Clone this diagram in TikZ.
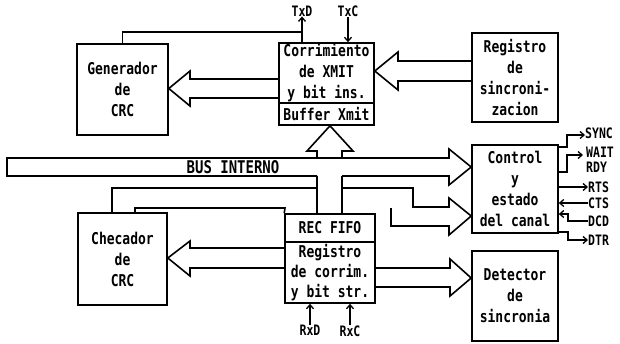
\documentclass[tikz,border=0pt]{standalone}
\usepackage{fontspec}
\setmonofont{DejaVu Sans Mono}
\usepackage{graphicx}
\usetikzlibrary{arrows.meta,calc}
\newcommand{\vs}[1]{\scalebox{1}[1.25]{#1}}
\begin{document}
\begin{tikzpicture}[x=1pt,y=-1pt,
  box/.style={draw,line width=1.6pt,inner sep=0pt,align=center,
    font=\ttfamily\bfseries\fontsize{13}{21}\selectfont},
  wide/.style={line width=1.6pt,line join=miter},
  thinl/.style={line width=1.3pt},
  sig/.style={line width=1.3pt,-{Straight Barb[length=4pt,width=7pt]}},
  lbl/.style={inner sep=0pt,font=\ttfamily\bfseries\fontsize{11.5}{14.5}\selectfont,align=left}]
\useasboundingbox (0,0) rectangle (620,343);

% boxes
\node[box,minimum width=91pt,minimum height=91pt] (gen) at (122.5,89.5)
  {\vs{Generador}\\\vs{de}\\\vs{CRC}};
\node[box,minimum width=89pt,minimum height=92pt] (chk) at (122.5,259)
  {\vs{Checador}\\\vs{de}\\\vs{CRC}};
\node[box,minimum width=95pt,minimum height=60pt] (corr) at (326.5,73)
  {\vs{Corrimiento}\\\vs{de XMIT}\\\vs{y bit ins.}};
\node[box,minimum width=95pt,minimum height=22pt] (buf) at (326.5,114)
  {\vs{Buffer Xmit}};
\node[box,minimum width=86pt,minimum height=89pt] (reg) at (515,77.5)
  {\vs{Registro}\\\vs{de}\\\vs{sincroni-}\\\vs{zacion}};
\node[box,minimum width=86pt,minimum height=88pt] (ctl) at (515,189)
  {\vs{Control}\\\vs{y}\\\vs{estado}\\\vs{del canal}};
\node[box,minimum width=86pt,minimum height=90pt] (det) at (515,296)
  {\vs{Detector}\\\vs{de}\\\vs{sincronia}};
\node[box,minimum width=90pt,minimum height=28pt] (fifo) at (330,228)
  {\vs{REC FIFO}};
\node[box,minimum width=90pt,minimum height=61pt,font=\ttfamily\bfseries\fontsize{13}{20}\selectfont] (rsr) at (330,272.5)
  {\vs{Registro}\\\vs{de corrim.}\\\vs{y bit str.}};

% hollow arrows
\draw[wide] (corr.west |- 0,79) -- (190,79) -- (190,71) -- (gen.east |- 0,88.5)
  -- (190,106) -- (190,98) -- (corr.west |- 0,98);
\draw[wide] (reg.west |- 0,61) -- (398,61) -- (398,52) -- (corr.east |- 0,71)
  -- (398,90) -- (398,81) -- (reg.west |- 0,81);
\draw[wide] (rsr.west |- 0,248) -- (190,248) -- (190,241) -- (chk.east |- 0,258)
  -- (190,276) -- (190,268) -- (rsr.west |- 0,268);
\draw[wide] (rsr.east |- 0,268) -- (450,268) -- (450,259) -- (det.west |- 0,278)
  -- (450,296) -- (450,287) -- (rsr.east |- 0,287);

% internal bus
\draw[wide] (317,176) -- (7,176) -- (7,158) -- (449,158) -- (449,149)
  -- (ctl.west |- 0,167) -- (449,185) -- (449,176) -- (342,176);
\node[inner sep=0pt,font=\ttfamily\bfseries\fontsize{14}{14}\selectfont] (busl) at (233,167) {\vs{BUS INTERNO}};

% bus -> buffer xmit
\draw[wide] (317,158) -- (317,151) -- (307,151) -- (buf.south -| 330,0)
  -- (353,151) -- (342,151) -- (342,158);
% rec fifo -> bus
\draw[wide] (317,176) -- (fifo.north -| 317,0);
\draw[wide] (342,176) -- (fifo.north -| 342,0);

% checador channel -> control
\draw[wide] (chk.north -| 112,0) -- (112,188) -- (317,188);
\draw[wide] (342,188) -- (413,188) -- (413,207) -- (449,207) -- (449,198)
  -- (ctl.west |- 0,216) -- (449,235) -- (449,226) -- (391,226) -- (391,208);
\draw[wide] (chk.north -| 135,0) -- (135,208) -- (285,208) -- (fifo.north west);

% TxD / TxC
\node[lbl] (txd) at (302,11) {\vs{TxD}};
\node[lbl] (txc) at (348,11) {\vs{TxC}};
\draw[sig] (txd |- corr.north) -- (txd.south);
\draw[sig] (txc.south) -- (txc |- corr.north);
\draw[thinl] (gen.north) |- (302,32);

% RxD / RxC
\node[lbl] (rxd) at (310,330) {\vs{RxD}};
\node[lbl] (rxc) at (350,331) {\vs{RxC}};
\draw[sig] (rxd.north) -- (rxd |- rsr.south);
\draw[sig] (rxc.north) -- (rxc |- rsr.south);

% control signals
\node[lbl,anchor=west] (sync) at (585,133) {\vs{SYNC}};
\node[lbl,anchor=west] (wait) at (586,160) {\vs{WAIT}\\\vs{RDY}};
\node[lbl,anchor=west] (rts) at (588,187) {\vs{RTS}};
\node[lbl,anchor=west] (cts) at (588,203) {\vs{CTS}};
\node[lbl,anchor=west] (dcd) at (588,221) {\vs{DCD}};
\node[lbl,anchor=west] (dtr) at (588,240) {\vs{DTR}};
\draw[sig] (ctl.east |- 0,147) -- (567,147) -- (567,135) -- (sync.west |- 0,135);
\draw[sig] (ctl.east |- 0,172) -- (567,172) -- (567,155) -- (583,155);
\draw[sig] (ctl.east |- 0,187) -- (rts.west);
\draw[sig] (cts.west) -- (ctl.east |- 0,203);
\draw[sig] (dcd.west) -- (568,221) -- (568,214) -- (ctl.east |- 0,214);
\draw[sig] (ctl.east |- 0,232) -- (568,232) -- (568,240) -- (dtr.west);
\end{tikzpicture}
\end{document}
